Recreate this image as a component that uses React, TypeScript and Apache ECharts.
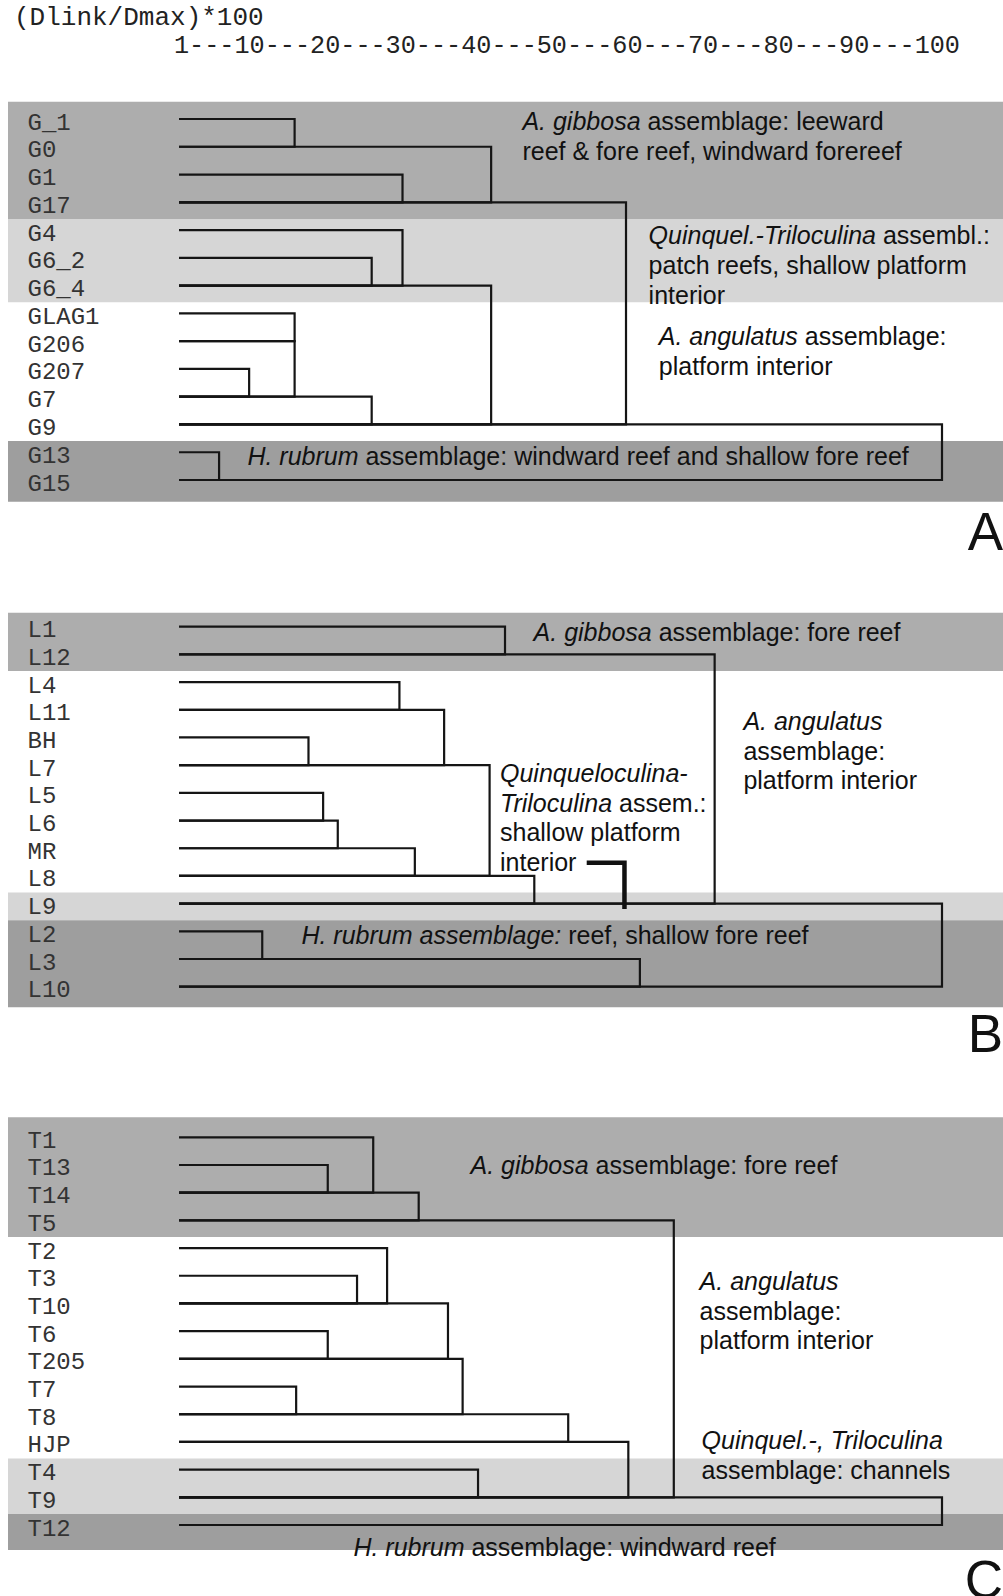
import React, { useEffect, useRef } from "react";
import * as echarts from "echarts";

// ---------- data ----------
const headerTitle = "(Dlink/Dmax)*100";
const scaleTicks = ["1", "10", "20", "30", "40", "50", "60", "70", "80", "90", "100"];
const LEAF_START = 1;

// panel A
const labelsA = ["G_1", "G0", "G1", "G17", "G4", "G6_2", "G6_4", "GLAG1", "G206", "G207", "G7", "G9", "G13", "G15"];
// merges: [upper row, lower row, rescaled linkage distance]
const mergesA = [
  [0, 1, 16], [2, 3, 30], [1, 3, 41.5], [5, 6, 26], [4, 6, 30], [7, 8, 16], [9, 10, 10.1],
  [8, 10, 16], [10, 11, 26], [6, 11, 41.5], [3, 11, 59], [12, 13, 6.2], [11, 13, 100],
];
// bands: [first row, last row, shade index]
const bandsA = [[0, 3, 0], [4, 6, 1], [12, 13, 2]];
const notesA = [
  "{i|A. gibbosa} assemblage: leeward\nreef & fore reef, windward forereef",
  "{i|Quinquel.-Triloculina} assembl.:\npatch reefs, shallow platform\ninterior",
  "{i|A. angulatus} assemblage:\nplatform interior",
  "{i|H. rubrum} assemblage: windward reef and shallow fore reef",
];

// panel B
const labelsB = ["L1", "L12", "L4", "L11", "BH", "L7", "L5", "L6", "MR", "L8", "L9", "L2", "L3", "L10"];
const mergesB = [
  [0, 1, 43.3], [2, 3, 29.6], [4, 5, 17.8], [3, 5, 35.4], [6, 7, 19.7], [7, 8, 21.6], [8, 9, 31.6],
  [5, 9, 41.3], [9, 10, 47.1], [1, 10, 70.5], [11, 12, 11.8], [12, 13, 60.8], [10, 13, 100],
];
const bandsB = [[0, 1, 0], [10, 10, 1], [11, 13, 2]];
const notesB = [
  "{i|A. gibbosa} assemblage: fore reef",
  "{i|A. angulatus}\nassemblage:\nplatform interior",
  "{i|Quinqueloculina-}\n{i|Triloculina} assem.:\nshallow platform\ninterior",
  "{i|H. rubrum assemblage:} reef, shallow fore reef",
];
const calloutB = [[53.9, 8.52], [58.8, 8.52], [58.8, 10.19]];

// panel C
const labelsC = ["T1", "T13", "T14", "T5", "T2", "T3", "T10", "T6", "T205", "T7", "T8", "HJP", "T4", "T9", "T12"];
const mergesC = [
  [1, 2, 20.3], [0, 2, 26.2], [2, 3, 32.1], [5, 6, 24.1], [4, 6, 28], [7, 8, 20.3], [6, 8, 35.9],
  [9, 10, 16.2], [8, 10, 37.8], [10, 11, 51.5], [11, 13, 59.3], [12, 13, 39.8], [3, 13, 65.2], [13, 14, 100],
];
const bandsC = [[0, 3, 0], [12, 13, 1], [14, 14, 2]];
const notesC = [
  "{i|A. gibbosa} assemblage: fore reef",
  "{i|A. angulatus}\nassemblage:\nplatform interior",
  "{i|Quinquel.-, Triloculina}\nassemblage: channels",
  "{i|H. rubrum} assemblage: windward reef",
];
const panelLetters = ["A", "B", "C"];

// ---------- layout / style ----------
const W = 1003;
const H = 1596;
const shades = ["#adadad", "#d6d6d6", "#9e9e9e"];
const GRID_LEFT = 171.3;
const GRID_WIDTH = 770.7;
const BAND_LEFT = 8;
const SHIFT = 0.1;
const MONO = '"Liberation Mono", "DejaVu Sans Mono", monospace';
const SANS = '"Liberation Sans", Arial, sans-serif';

const panels = [
  { labels: labelsA, merges: mergesA, bands: bandsA, top: 119, height: 361, padTop: 0.62, padBottom: 0.78,
    notes: notesA, notePos: [[522.4, 106.5], [648.6, 220.5], [658.8, 321.2], [247.4, 441.5]], letterY: 531 },
  { labels: labelsB, merges: mergesB, bands: bandsB, top: 626.7, height: 360, padTop: 0.5, padBottom: 0.74,
    notes: notesB, notePos: [[533.6, 617.7], [743.4, 706.2], [500, 758.2], [301.4, 920]], letterY: 1033 },
  { labels: labelsC, merges: mergesC, bands: bandsC, top: 1137.3, height: 387.7, padTop: 0.72, padBottom: 0.9,
    notes: notesC, notePos: [[470.5, 1150.2], [699.6, 1266.2], [701.6, 1425.2], [353.4, 1532]], letterY: 1579 },
];

const NOTE_SIZE = 25;
const NOTE_LH = 29.6;

function buildOption() {
  const grid: any[] = [];
  const xAxis: any[] = [];
  const yAxis: any[] = [];
  const series: any[] = [];
  const graphic: any[] = [];

  graphic.push({
    type: "text", x: 14, y: 17.5,
    style: { text: headerTitle, fontFamily: MONO, fontSize: 26, fill: "#222",
      verticalAlign: "middle", textVerticalAlign: "middle" },
  });
  graphic.push({
    type: "text", x: 174, y: 46,
    style: { text: scaleTicks.join("---"), fontFamily: MONO, fontSize: 25.2, fill: "#222",
      verticalAlign: "middle", textVerticalAlign: "middle" },
  });

  panels.forEach((p, i) => {
    const n = p.labels.length;
    grid.push({ left: GRID_LEFT, width: GRID_WIDTH, top: p.top, height: p.height });
    xAxis.push({ gridIndex: i, type: "value", min: 0, max: 100, show: false });
    yAxis.push({
      gridIndex: i, type: "value", inverse: true, min: 0, max: n - 1, interval: 1,
      axisLine: { show: false }, axisTick: { show: false }, splitLine: { show: false },
      axisLabel: {
        show: true, align: "left", margin: GRID_LEFT - 27.5,
        fontFamily: MONO, fontSize: 24, color: "#333",
        formatter: (v: number) => "{l|" + (p.labels[Math.round(v)] ?? "") + "}",
        rich: {
          l: { fontFamily: MONO, fontSize: 24, color: "#333", padding: [8, 0, 0, 0] },
        },
      },
    });

    // background bands
    series.push({
      type: "custom", xAxisIndex: i, yAxisIndex: i, z: 0, silent: true,
      dimensions: ["from", "to", "shade"], encode: { y: [0, 1] },
      data: p.bands,
      renderItem: (_params: any, api: any) => {
        const from = api.value(0);
        const to = api.value(1);
        const shade = api.value(2);
        const yTopRow = from === 0 ? -p.padTop : from - 0.5 + SHIFT;
        const yBotRow = to === n - 1 ? n - 1 + p.padBottom : to + 0.5 + SHIFT;
        const y0 = api.coord([0, yTopRow])[1];
        const y1 = api.coord([0, yBotRow])[1];
        return {
          type: "rect",
          shape: { x: BAND_LEFT, y: y0, width: api.getWidth() - BAND_LEFT, height: y1 - y0 },
          style: { fill: shades[shade], stroke: "none" },
        };
      },
    });

    // dendrogram brackets
    series.push({
      type: "custom", xAxisIndex: i, yAxisIndex: i, z: 3, silent: true,
      dimensions: ["upper", "lower", "distance"], encode: { x: 2, y: [0, 1] },
      data: p.merges,
      renderItem: (_params: any, api: any) => {
        const a = api.value(0);
        const b = api.value(1);
        const h = api.value(2);
        const pts = [
          api.coord([LEAF_START, a]),
          api.coord([h, a]),
          api.coord([h, b]),
          api.coord([LEAF_START, b]),
        ];
        return {
          type: "polyline",
          shape: { points: pts },
          style: { stroke: "#151515", lineWidth: 2.2, fill: "none" },
        };
      },
    });

    // annotations
    p.notes.forEach((t, k) => {
      graphic.push({
        type: "text", x: p.notePos[k][0], y: p.notePos[k][1], z: 10,
        style: {
          text: t, fontFamily: SANS, fontSize: NOTE_SIZE, lineHeight: NOTE_LH, fill: "#111",
          verticalAlign: "top", textVerticalAlign: "top",
          rich: { i: { fontFamily: SANS, fontSize: NOTE_SIZE, lineHeight: NOTE_LH, fontStyle: "italic", fill: "#111" } },
        },
      });
    });

    graphic.push({
      type: "text", x: 1003, y: p.letterY, z: 10,
      style: { text: panelLetters[i], fontFamily: SANS, fontSize: 53, fill: "#111",
        align: "right", textAlign: "right", verticalAlign: "middle", textVerticalAlign: "middle" },
    });
  });

  // callout bracket in panel B
  series.push({
    type: "line", xAxisIndex: 1, yAxisIndex: 1, z: 4, silent: true,
    data: calloutB, symbol: "none",
    lineStyle: { color: "#111", width: 4.5, cap: "butt", join: "miter" },
  });

  return {
    animation: false,
    backgroundColor: "#ffffff",
    grid, xAxis, yAxis, series, graphic,
  };
}

export default function App() {
  const ref = useRef<HTMLDivElement>(null);
  useEffect(() => {
    if (!ref.current) return;
    const chart = echarts.init(ref.current, undefined, { renderer: "svg" });
    chart.setOption(buildOption() as any);
    return () => chart.dispose();
  }, []);
  return (
    <div
      ref={ref}
      style={{ position: "absolute", left: 0, top: 0, width: W, height: H }}
    />
  );
}
